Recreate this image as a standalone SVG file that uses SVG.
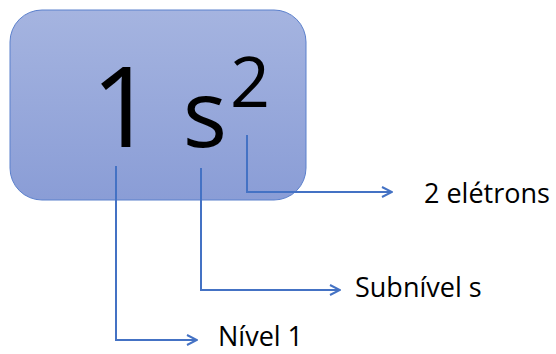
<svg xmlns="http://www.w3.org/2000/svg" width="556" height="354" viewBox="0 0 556 354">
<defs>
<linearGradient id="g" x1="0" y1="0" x2="0" y2="1">
<stop offset="0" stop-color="#a5b4e0"/>
<stop offset="1" stop-color="#8a9dd6"/>
</linearGradient>
<marker id="arr" viewBox="0 0 12 12" refX="11" refY="6" markerWidth="12" markerHeight="12" markerUnits="userSpaceOnUse" orient="auto">
<path d="M1,1 L11,6 L1,11" fill="none" stroke="#4472c4" stroke-width="2"/>
</marker>
</defs>
<style>
.big{font-family:"Open Sans","Liberation Sans",sans-serif;fill:#000;text-anchor:middle}
.lbl{font-family:"Open Sans","Liberation Sans",sans-serif;font-size:27px;fill:#000}
.con{fill:none;stroke:#4472c4;stroke-width:2;marker-end:url(#arr)}
</style>
<g id="box">
<rect x="10" y="10" width="296" height="190" rx="32" ry="32" fill="url(#g)" stroke="#5b80cc" stroke-width="1"/>
<text class="big" x="123" y="147" font-size="112">1</text>
<text class="big" x="205" y="147" font-size="93">s</text>
<text class="big" x="250" y="107" font-size="70">2</text>
</g>
<g id="connectors">
<path class="con" d="M116,166 V340 H197"/>
<path class="con" d="M201,168 V290 H340"/>
<path class="con" d="M247,135 V192 H392"/>
</g>
<g id="n-eletrons"><text class="lbl" x="424" y="203">2 elétrons</text></g>
<g id="n-subnivel"><text class="lbl" x="355" y="297">Subnível s</text></g>
<g id="n-nivel"><text class="lbl" x="218" y="346">Nível 1</text></g>
</svg>
